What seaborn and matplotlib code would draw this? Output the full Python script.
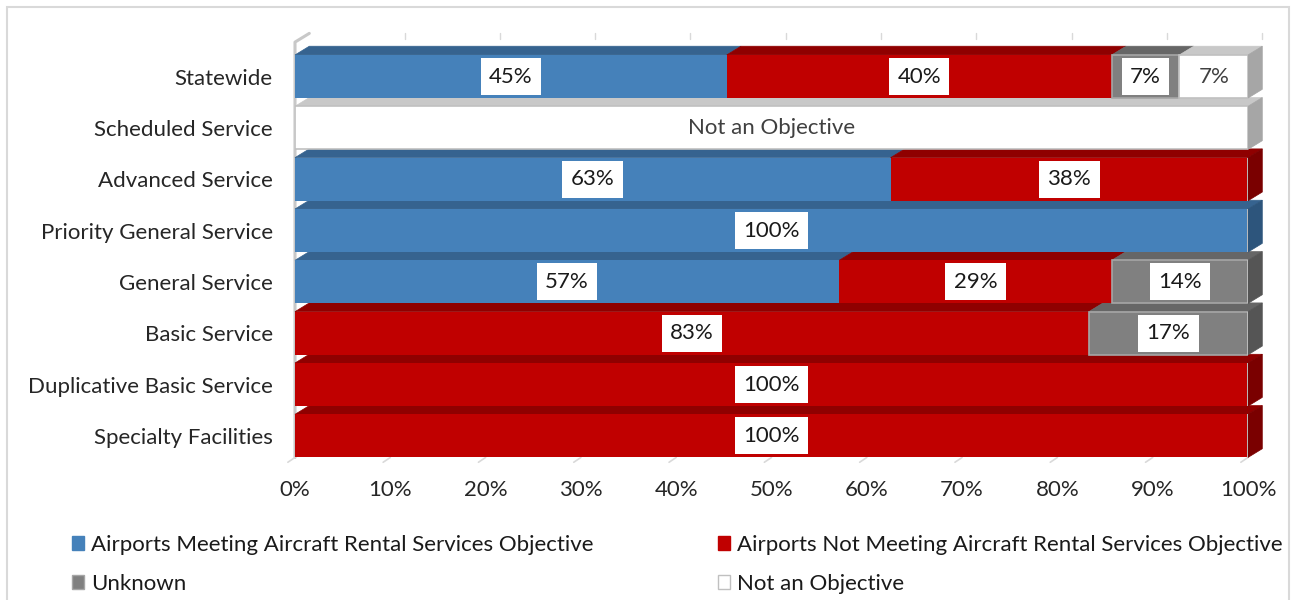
import numpy as np
import pandas as pd
import matplotlib
matplotlib.use("Agg")
import matplotlib.pyplot as plt
from matplotlib.patches import Polygon, Patch, Rectangle
from matplotlib.lines import Line2D
import seaborn as sns

# ---- data -------------------------------------------------------------
categories = [
    "Statewide",
    "Scheduled Service",
    "Advanced Service",
    "Priority General Service",
    "General Service",
    "Basic Service",
    "Duplicative Basic Service",
    "Specialty Facilities",
]
meeting = [45.3, 0.0, 62.5, 100.0, 57.1, 0.0, 0.0, 0.0]
not_meeting = [40.4, 0.0, 37.5, 0.0, 28.6, 83.3, 100.0, 100.0]
unknown = [7.1, 0.0, 0.0, 0.0, 14.3, 16.7, 0.0, 0.0]
not_objective = [7.2, 100.0, 0.0, 0.0, 0.0, 0.0, 0.0, 0.0]

series_names = [
    "Airports Meeting Aircraft Rental Services Objective",
    "Airports Not Meeting Aircraft Rental Services Objective",
    "Unknown",
    "Not an Objective",
]
x_ticks = [0, 10, 20, 30, 40, 50, 60, 70, 80, 90, 100]

# ---- styling ----------------------------------------------------------
front_colors = ["#4581BA", "#C00000", "#808080", "#FFFFFF"]
top_colors = ["#36638F", "#8F0000", "#666666", "#C8C8C8"]
side_colors = ["#2D557C", "#7A0000", "#555555", "#A6A6A6"]
edge_colors = ["none", "none", "#A6A6A6", "#C0C0C0"]
label_colors = ["#1A1A1A", "#1A1A1A", "#1A1A1A", "#404040"]

sns.set_theme(style="white")
plt.rcParams["font.family"] = ["Lato", "DejaVu Sans"]
FS = 16

W, H = 1308, 600
fig = plt.figure(figsize=(W / 100, H / 100), dpi=100)
fig.patch.set_facecolor("white")

# outer chart frame
fig.patches.append(Rectangle((7 / W, -0.05), (1289 - 7) / W, 1.05 - 7 / H,
                             transform=fig.transFigure, fill=False,
                             edgecolor="#D9D9D9", lw=1.5, zorder=0))

ax = fig.add_axes([295 / W, 1 - 459 / H, 953 / W, 421 / H])

bar_h = 0.84      # front face height (category units)
dx = 1.5          # depth offset along x (data units)
dy = 0.17         # depth offset along y (category units)

series = [meeting, not_meeting, unknown, not_objective]
lefts = np.zeros(len(categories))
segments = []   # (row, left, width, series index)
for s, vals in enumerate(series):
    vals = np.asarray(vals, dtype=float)
    n_before = len(ax.patches)
    sns.barplot(x=vals, y=categories, order=categories, orient="h",
                color=front_colors[s], saturation=1, width=bar_h,
                errorbar=None, ax=ax, zorder=3)
    new = ax.patches[n_before:]
    for i, p in enumerate(new):
        p.set_x(lefts[i])
        p.set_edgecolor(edge_colors[s])
        p.set_linewidth(1.2 if edge_colors[s] != "none" else 0)
        if vals[i] > 0:
            segments.append((i, lefts[i], vals[i], s))
    lefts = lefts + vals

ax.set_xlim(0, 100)
ax.set_ylim(len(categories) - 1 + 0.45, -0.75)

# 3-D top faces and right-hand side faces
row_end = {}
for (i, L, w, s) in segments:
    y_top = i - bar_h / 2
    top = Polygon([(L, y_top), (L + w, y_top), (L + w + dx, y_top - dy),
                   (L + dx, y_top - dy)], closed=True,
                  facecolor=top_colors[s], edgecolor=top_colors[s],
                  lw=0.5, zorder=2, clip_on=False)
    ax.add_patch(top)
    if i not in row_end or L + w > row_end[i][0]:
        row_end[i] = (L + w, s)
for i, (R, s) in row_end.items():
    y_top = i - bar_h / 2
    y_bot = i + bar_h / 2
    side = Polygon([(R, y_top), (R + dx, y_top - dy), (R + dx, y_bot - dy),
                    (R, y_bot)], closed=True, facecolor=side_colors[s],
                   edgecolor=side_colors[s], lw=0.5, zorder=2, clip_on=False)
    ax.add_patch(side)

# left wall, back-wall tick stubs, floor tick stubs
y_floor = len(categories) - 1 + bar_h / 2
y_ceiling = -0.5 - bar_h / 2 + 0.08
wall_c = "#C8C8C8"
ax.add_line(Line2D([0, 0, dx], [y_floor, y_ceiling + dy, y_ceiling],
                   color=wall_c, lw=2.2, zorder=1, clip_on=False))
for t in x_ticks[1:]:
    ax.add_line(Line2D([t + dx, t + dx], [y_ceiling, y_ceiling + 0.1],
                       color="#D9D9D9", lw=1, zorder=1, clip_on=False))
for t in x_ticks:
    ax.add_line(Line2D([t - dx * 0.5, t], [y_floor + dy * 0.55, y_floor],
                       color="#D9D9D9", lw=1.2, zorder=1, clip_on=False))

# data labels
def pct(v):
    return f"{int(np.floor(v + 0.5))}%"

for (i, L, w, s) in segments:
    cx = L + w / 2
    if s == 3 and w >= 99.9:
        ax.text(cx, i, series_names[3], ha="center", va="center",
                fontsize=FS, color=label_colors[3], zorder=5)
        continue
    ax.text(cx, i, pct(w), ha="center", va="center", fontsize=FS,
            color=label_colors[s], zorder=5,
            bbox=dict(boxstyle="square,pad=0.38", facecolor="white",
                      edgecolor="none"))

# axes text
ax.set_xticks(x_ticks)
ax.set_xticklabels([f"{t}%" for t in x_ticks])
ax.tick_params(axis="x", length=0, pad=15, labelsize=FS, labelcolor="#262626")
ax.tick_params(axis="y", length=0, pad=16, labelsize=FS, labelcolor="#262626")
ax.set_xlabel("")
ax.set_ylabel("")
for sp in ax.spines.values():
    sp.set_visible(False)
ax.set_facecolor("none")

# legend (two columns placed independently)
handles = [Patch(facecolor=front_colors[k],
                 edgecolor=(edge_colors[k] if edge_colors[k] != "none" else front_colors[k]),
                 lw=1)
           for k in range(4)]
leg_kw = dict(frameon=False, fontsize=FS, handlelength=0.55, handleheight=0.55,
              handletextpad=0.3, labelspacing=0.85, borderpad=0,
              borderaxespad=0, loc="upper left")
leg1 = fig.legend([handles[0], handles[2]], [series_names[0], series_names[2]],
                  bbox_to_anchor=(72 / W, 1 - 535 / H), **leg_kw)
leg2 = fig.legend([handles[1], handles[3]], [series_names[1], series_names[3]],
                  bbox_to_anchor=(718 / W, 1 - 535 / H), **leg_kw)
for leg in (leg1, leg2):
    for t in leg.get_texts():
        t.set_color("#1A1A1A")

fig.savefig("out.png", dpi=100, facecolor="white")
